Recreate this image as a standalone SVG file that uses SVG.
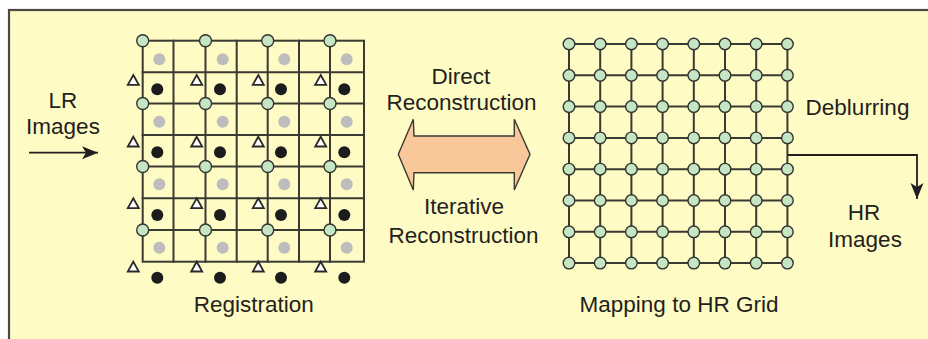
<svg xmlns="http://www.w3.org/2000/svg" width="928" height="339" viewBox="0 0 928 339">
<style>
.frame{fill:#FFFBC4;stroke:#4a4a44;stroke-width:2.2}
.gl{stroke:#3a3a33;stroke-width:2;fill:none;stroke-linecap:square}
.g{fill:#C5E6C3;stroke:#333330;stroke-width:1.4}
.gray{fill:#BDBDBD}
.blk{fill:#1c1c1c}
.tri{fill:#ffffff;stroke:#2a2a2a;stroke-width:1.8;stroke-linejoin:miter}
.t{font-family:"Liberation Sans",Arial,sans-serif;font-size:22.5px;fill:#231f20;text-anchor:middle}
.con{stroke:#231f20;stroke-width:1.8;fill:none}
.dbl{fill:#F8C79A;stroke:#3a3a33;stroke-width:1.4;stroke-linejoin:miter}
</style>
<defs>
<marker id="ah" markerUnits="userSpaceOnUse" viewBox="-18 -8 20 16" refX="0" refY="0" markerWidth="20" markerHeight="16" orient="auto">
<path d="M0,0 L-16,-6.5 L-12,0 L-16,6.5 Z" fill="#231f20"/>
</marker>
<polygon id="tr" class="tri" points="0,-5 5.5,4.8 -5.5,4.8"/>
</defs>
<rect class="frame" x="9" y="10" width="940" height="350"/>

<g id="registration">
<g class="gl">
<rect x="142.7" y="40.7" width="221.3" height="221"/>
<path d="M173.5,40.7V261.7M205.5,40.7V261.7M236.7,40.7V261.7M267.7,40.7V261.7M299,40.7V261.7M330,40.7V261.7"/>
<path d="M142.7,72.3H364M142.7,103.5H364M142.7,135H364M142.7,166.5H364M142.7,198.3H364M142.7,230H364"/>
</g>
<g>
<circle class="gray" cx="159.3" cy="59.3" r="6"/><circle class="gray" cx="222.7" cy="59.3" r="6"/><circle class="gray" cx="284.3" cy="59.3" r="6"/><circle class="gray" cx="346.7" cy="59.3" r="6"/>
<circle class="gray" cx="159.3" cy="121.7" r="6"/><circle class="gray" cx="222.7" cy="121.7" r="6"/><circle class="gray" cx="284.3" cy="121.7" r="6"/><circle class="gray" cx="346.7" cy="121.7" r="6"/>
<circle class="gray" cx="159.3" cy="184.3" r="6"/><circle class="gray" cx="222.7" cy="184.3" r="6"/><circle class="gray" cx="284.3" cy="184.3" r="6"/><circle class="gray" cx="346.7" cy="184.3" r="6"/>
<circle class="gray" cx="159.3" cy="247.7" r="6"/><circle class="gray" cx="222.7" cy="247.7" r="6"/><circle class="gray" cx="284.3" cy="247.7" r="6"/><circle class="gray" cx="346.7" cy="247.7" r="6"/>
</g>
<g>
<circle class="blk" cx="157.3" cy="89.3" r="6"/><circle class="blk" cx="220" cy="89.3" r="6"/><circle class="blk" cx="281" cy="89.3" r="6"/><circle class="blk" cx="344.3" cy="89.3" r="6"/>
<circle class="blk" cx="157.3" cy="152.3" r="6"/><circle class="blk" cx="220" cy="152.3" r="6"/><circle class="blk" cx="281" cy="152.3" r="6"/><circle class="blk" cx="344.3" cy="152.3" r="6"/>
<circle class="blk" cx="157.3" cy="215" r="6"/><circle class="blk" cx="220" cy="215" r="6"/><circle class="blk" cx="281" cy="215" r="6"/><circle class="blk" cx="344.3" cy="215" r="6"/>
<circle class="blk" cx="157.3" cy="277.7" r="6"/><circle class="blk" cx="220" cy="277.7" r="6"/><circle class="blk" cx="281" cy="277.7" r="6"/><circle class="blk" cx="344.3" cy="277.7" r="6"/>
</g>
<g>
<use href="#tr" x="133.3" y="80"/><use href="#tr" x="196.7" y="80"/><use href="#tr" x="258.3" y="80"/><use href="#tr" x="320.7" y="80"/>
<use href="#tr" x="133.3" y="141.7"/><use href="#tr" x="196.7" y="141.7"/><use href="#tr" x="258.3" y="141.7"/><use href="#tr" x="320.7" y="141.7"/>
<use href="#tr" x="133.3" y="203.3"/><use href="#tr" x="196.7" y="203.3"/><use href="#tr" x="258.3" y="203.3"/><use href="#tr" x="320.7" y="203.3"/>
<use href="#tr" x="133.3" y="266.7"/><use href="#tr" x="196.7" y="266.7"/><use href="#tr" x="258.3" y="266.7"/><use href="#tr" x="320.7" y="266.7"/>
</g>
<g>
<circle class="g" cx="142.7" cy="40.7" r="6"/><circle class="g" cx="205.5" cy="40.7" r="6"/><circle class="g" cx="267.7" cy="40.7" r="6"/><circle class="g" cx="330" cy="40.7" r="6"/>
<circle class="g" cx="142.7" cy="103.5" r="6"/><circle class="g" cx="205.5" cy="103.5" r="6"/><circle class="g" cx="267.7" cy="103.5" r="6"/><circle class="g" cx="330" cy="103.5" r="6"/>
<circle class="g" cx="142.7" cy="166.5" r="6"/><circle class="g" cx="205.5" cy="166.5" r="6"/><circle class="g" cx="267.7" cy="166.5" r="6"/><circle class="g" cx="330" cy="166.5" r="6"/>
<circle class="g" cx="142.7" cy="230" r="6"/><circle class="g" cx="205.5" cy="230" r="6"/><circle class="g" cx="267.7" cy="230" r="6"/><circle class="g" cx="330" cy="230" r="6"/>
</g>
<text class="t" x="253.7" y="311.5">Registration</text>
</g>

<g id="reconstruction">
<polygon class="dbl" points="398.3,154.3 413.3,119.3 414,136 514.3,136 514.3,119.3 530,154.3 514.3,190 514.3,172.7 414,172.7 413.3,190"/>
<text class="t" x="461" y="84">Direct</text>
<text class="t" x="461.5" y="110">Reconstruction</text>
<text class="t" x="464" y="214">Iterative</text>
<text class="t" x="463.5" y="242.5">Reconstruction</text>
</g>

<g id="hr-grid">
<g class="gl">
<path d="M569,44H787.4M569,75.3H787.4M569,106.6H787.4M569,137.9H787.4M569,169.2H787.4M569,200.5H787.4M569,231.8H787.4M569,263.1H787.4"/>
<path d="M569,44V263.1M600.2,44V263.1M631.4,44V263.1M662.6,44V263.1M693.8,44V263.1M725,44V263.1M756.2,44V263.1M787.4,44V263.1"/>
</g>
<g id="hr-nodes">
<circle class="g" cx="569" cy="44" r="5.8"/><circle class="g" cx="600.2" cy="44" r="5.8"/><circle class="g" cx="631.4" cy="44" r="5.8"/><circle class="g" cx="662.6" cy="44" r="5.8"/><circle class="g" cx="693.8" cy="44" r="5.8"/><circle class="g" cx="725" cy="44" r="5.8"/><circle class="g" cx="756.2" cy="44" r="5.8"/><circle class="g" cx="787.4" cy="44" r="5.8"/>
<circle class="g" cx="569" cy="75.3" r="5.8"/><circle class="g" cx="600.2" cy="75.3" r="5.8"/><circle class="g" cx="631.4" cy="75.3" r="5.8"/><circle class="g" cx="662.6" cy="75.3" r="5.8"/><circle class="g" cx="693.8" cy="75.3" r="5.8"/><circle class="g" cx="725" cy="75.3" r="5.8"/><circle class="g" cx="756.2" cy="75.3" r="5.8"/><circle class="g" cx="787.4" cy="75.3" r="5.8"/>
<circle class="g" cx="569" cy="106.6" r="5.8"/><circle class="g" cx="600.2" cy="106.6" r="5.8"/><circle class="g" cx="631.4" cy="106.6" r="5.8"/><circle class="g" cx="662.6" cy="106.6" r="5.8"/><circle class="g" cx="693.8" cy="106.6" r="5.8"/><circle class="g" cx="725" cy="106.6" r="5.8"/><circle class="g" cx="756.2" cy="106.6" r="5.8"/><circle class="g" cx="787.4" cy="106.6" r="5.8"/>
<circle class="g" cx="569" cy="137.9" r="5.8"/><circle class="g" cx="600.2" cy="137.9" r="5.8"/><circle class="g" cx="631.4" cy="137.9" r="5.8"/><circle class="g" cx="662.6" cy="137.9" r="5.8"/><circle class="g" cx="693.8" cy="137.9" r="5.8"/><circle class="g" cx="725" cy="137.9" r="5.8"/><circle class="g" cx="756.2" cy="137.9" r="5.8"/><circle class="g" cx="787.4" cy="137.9" r="5.8"/>
<circle class="g" cx="569" cy="169.2" r="5.8"/><circle class="g" cx="600.2" cy="169.2" r="5.8"/><circle class="g" cx="631.4" cy="169.2" r="5.8"/><circle class="g" cx="662.6" cy="169.2" r="5.8"/><circle class="g" cx="693.8" cy="169.2" r="5.8"/><circle class="g" cx="725" cy="169.2" r="5.8"/><circle class="g" cx="756.2" cy="169.2" r="5.8"/><circle class="g" cx="787.4" cy="169.2" r="5.8"/>
<circle class="g" cx="569" cy="200.5" r="5.8"/><circle class="g" cx="600.2" cy="200.5" r="5.8"/><circle class="g" cx="631.4" cy="200.5" r="5.8"/><circle class="g" cx="662.6" cy="200.5" r="5.8"/><circle class="g" cx="693.8" cy="200.5" r="5.8"/><circle class="g" cx="725" cy="200.5" r="5.8"/><circle class="g" cx="756.2" cy="200.5" r="5.8"/><circle class="g" cx="787.4" cy="200.5" r="5.8"/>
<circle class="g" cx="569" cy="231.8" r="5.8"/><circle class="g" cx="600.2" cy="231.8" r="5.8"/><circle class="g" cx="631.4" cy="231.8" r="5.8"/><circle class="g" cx="662.6" cy="231.8" r="5.8"/><circle class="g" cx="693.8" cy="231.8" r="5.8"/><circle class="g" cx="725" cy="231.8" r="5.8"/><circle class="g" cx="756.2" cy="231.8" r="5.8"/><circle class="g" cx="787.4" cy="231.8" r="5.8"/>
<circle class="g" cx="569" cy="263.1" r="5.8"/><circle class="g" cx="600.2" cy="263.1" r="5.8"/><circle class="g" cx="631.4" cy="263.1" r="5.8"/><circle class="g" cx="662.6" cy="263.1" r="5.8"/><circle class="g" cx="693.8" cy="263.1" r="5.8"/><circle class="g" cx="725" cy="263.1" r="5.8"/><circle class="g" cx="756.2" cy="263.1" r="5.8"/><circle class="g" cx="787.4" cy="263.1" r="5.8"/>
</g>
<text class="t" x="679" y="311.5">Mapping to HR Grid</text>
</g>

<g id="lr-images">
<text class="t" x="63" y="108">LR</text>
<text class="t" x="63" y="134">Images</text>
</g>

<g id="deblurring">
<text class="t" x="857.5" y="115">Deblurring</text>
</g>

<g id="hr-images">
<text class="t" x="864" y="220">HR</text>
<text class="t" x="865" y="246.5">Images</text>
</g>

<g id="connectors">
<path class="con" d="M29,152.7H98" marker-end="url(#ah)"/>
<path class="con" d="M788,155H917V199" marker-end="url(#ah)"/>
</g>
</svg>
